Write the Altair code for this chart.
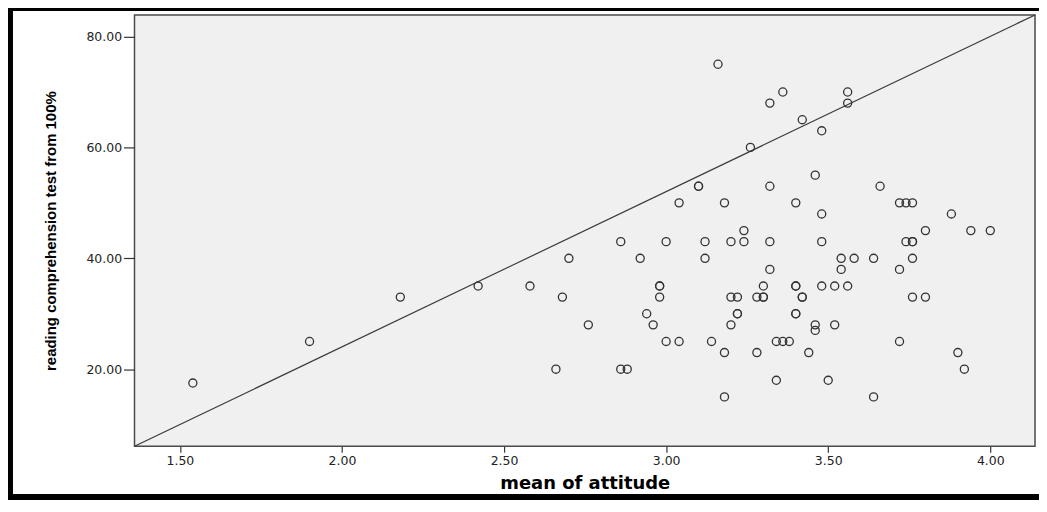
import altair as alt
import pandas as pd

# mean of attitude (x) and reading comprehension score (y)
attitude = [1.54, 1.90, 2.18, 2.42, 2.58, 2.66, 2.68, 2.70, 2.76, 2.86,
            2.86, 2.88, 2.92, 2.94, 2.96, 2.98, 2.98, 2.98, 3.00, 3.00,
            3.04, 3.04, 3.10, 3.10, 3.12, 3.12, 3.14, 3.16, 3.18, 3.18,
            3.18, 3.20, 3.20, 3.20, 3.22, 3.22, 3.22, 3.24, 3.24, 3.26,
            3.28, 3.28, 3.30, 3.30, 3.30, 3.32, 3.32, 3.32, 3.32, 3.34,
            3.34, 3.36, 3.36, 3.38, 3.40, 3.40, 3.40, 3.40, 3.40, 3.42,
            3.42, 3.42, 3.44, 3.46, 3.46, 3.46, 3.48, 3.48, 3.48, 3.48,
            3.50, 3.52, 3.52, 3.54, 3.54, 3.56, 3.56, 3.56, 3.58, 3.64,
            3.64, 3.66, 3.72, 3.72, 3.72, 3.74, 3.74, 3.76, 3.76, 3.76,
            3.76, 3.76, 3.80, 3.80, 3.88, 3.90, 3.92, 3.94, 4.00]
reading = [17.5, 25, 33, 35, 35, 20, 33, 40, 28, 43,
           20, 20, 40, 30, 28, 35, 35, 33, 43, 25,
           50, 25, 53, 53, 43, 40, 25, 75, 50, 23,
           15, 43, 33, 28, 33, 30, 30, 45, 43, 60,
           33, 23, 35, 33, 33, 68, 53, 43, 38, 25,
           18, 70, 25, 25, 50, 35, 35, 30, 30, 65,
           33, 33, 23, 55, 28, 27, 63, 48, 43, 35,
           18, 35, 28, 40, 38, 70, 68, 35, 40, 40,
           15, 53, 50, 38, 25, 50, 43, 50, 43, 43,
           40, 33, 45, 33, 48, 23, 20, 45, 45]

# reference line end points
line_x = [1.36, 4.138]
line_y = [6.1, 83.9]

x_ticks = [1.5, 2.0, 2.5, 3.0, 3.5, 4.0]
y_ticks = [20, 40, 60, 80]

W, H = 904, 433

pts = pd.DataFrame({"attitude": attitude, "reading": reading})
ln = pd.DataFrame({"attitude": line_x, "reading": line_y})

xscale = alt.Scale(domain=[1.36, 4.138], nice=False, zero=False)
yscale = alt.Scale(domain=[6.1, 83.9], nice=False, zero=False)

xaxis = alt.Axis(values=x_ticks, format=".2f", title="mean of attitude",
                 tickSize=6, labelPadding=2, domain=False, grid=False,
                 titleX=W / 2, titleY=42, titleBaseline="alphabetic",
                 titleAlign="center", titleFontSize=18)
yaxis = alt.Axis(values=y_ticks, format=".2f",
                 title="reading comprehension test from 100%",
                 tickSize=11, labelPadding=2, domain=False, grid=False,
                 titleX=-76, titleY=H / 2, titleAngle=-90,
                 titleBaseline="bottom", titleAlign="center",
                 titleFont="Liberation Sans", titleFontSize=15)

one = alt.Data(values=[{"f": 1}])
band_left = alt.Chart(one).mark_rect(color="black", clip=False).encode(
    x=alt.value(-128), x2=alt.value(-122),
    y=alt.value(-10), y2=alt.value(H + 80))
band_top = alt.Chart(one).mark_rect(color="black", clip=False).encode(
    x=alt.value(-128), x2=alt.value(W + 4),
    y=alt.value(-10), y2=alt.value(-4))
band_bottom = alt.Chart(one).mark_rect(color="black", clip=False).encode(
    x=alt.value(-128), x2=alt.value(W + 4),
    y=alt.value(H + 48), y2=alt.value(H + 80))

line = alt.Chart(ln).mark_line(color="#3a3a3a", strokeWidth=1.2).encode(
    x=alt.X("attitude:Q", scale=xscale, axis=xaxis),
    y=alt.Y("reading:Q", scale=yscale, axis=yaxis),
)

points = alt.Chart(pts).mark_point(
    shape="circle", filled=False, color="#333333", strokeWidth=1.3,
    size=66, opacity=1
).encode(
    x=alt.X("attitude:Q", scale=xscale),
    y=alt.Y("reading:Q", scale=yscale),
)

chart = alt.layer(band_left, band_top, band_bottom, line, points).properties(
    width=W, height=H,
    autosize=alt.AutoSizeParams(type="none"),
    padding={"left": 127, "top": 6, "right": 4, "bottom": 53},
    background="white",
).configure_view(
    fill="#f0f0f0", stroke="#4a4a4a", strokeWidth=1.5
).configure_axis(
    labelFont="DejaVu Sans", labelFontSize=12.5, labelColor="#222222",
    tickColor="#333333", tickWidth=1.2,
    titleFont="DejaVu Sans", titleFontSize=15, titleFontWeight="bold",
    titleColor="#000000"
)

chart.save("out.html", embed_options={"renderer": "svg", "actions": False})
